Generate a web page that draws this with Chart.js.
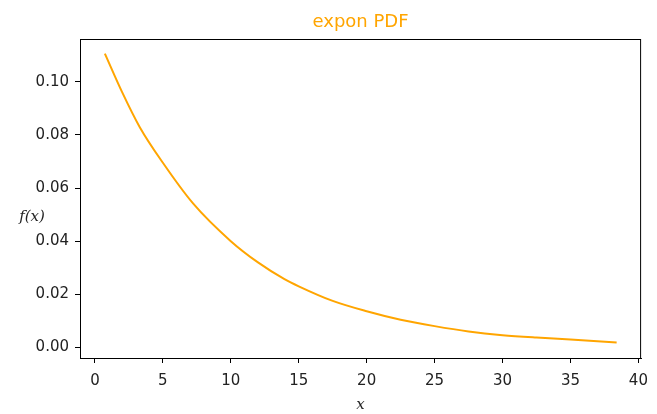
<!DOCTYPE html>
<html>
<head>
<meta charset="utf-8">
<script src="https://cdn.jsdelivr.net/npm/chart.js@4.4.0/dist/chart.umd.min.js"></script>
<style>
  html, body { margin: 0; padding: 0; background: #fff; }
  #wrap { width: 657px; height: 414px; }
</style>
</head>
<body>
<div id="wrap"><canvas id="myChart" width="657" height="414"></canvas></div>
<script>
// values
const xValues = [0.73, 2, 3.3, 5, 7.22, 10, 12, 13.95, 15, 17.5, 20, 22.5, 25, 27.5, 30, 32.5, 35, 38.4];
const pdfValues = [0.1106, 0.0961, 0.0829, 0.0695, 0.0542, 0.0400, 0.0320, 0.0257, 0.0230, 0.0175, 0.0136, 0.0104, 0.0080, 0.0060, 0.0046, 0.0037, 0.0030, 0.0018];
const xTicks = [0, 5, 10, 15, 20, 25, 30, 35, 40];
const yTicks = [0, 0.02, 0.04, 0.06, 0.08, 0.10];

const titleText = "expon PDF";
const xLabel = "x";
const yLabel = "f(x)";

const points = xValues.map((x, i) => ({ x: x, y: pdfValues[i] }));

// box around the plot + the axis labels (ylabel is horizontal like matplotlib rotation=0)
const framePlugin = {
    id: "frame",
    afterDraw(chart) {
        const ctx = chart.ctx;
        const a = chart.chartArea;
        ctx.save();
        ctx.strokeStyle = "#000";
        ctx.lineWidth = 1;
        ctx.strokeRect(a.left + 0.5, a.top + 0.5, a.right - a.left - 1, a.bottom - a.top);
        ctx.fillStyle = "#222";
        ctx.font = "italic 15px 'DejaVu Serif'";
        ctx.textAlign = "center";
        ctx.textBaseline = "middle";
        ctx.fillText(xLabel, (a.left + a.right) / 2, 405);
        ctx.fillText(yLabel, 32, 217);
        ctx.restore();
    }
};

new Chart(document.getElementById("myChart").getContext("2d"), {
    type: "line",
    data: {
        datasets: [
            {
                label: "expon",
                data: points,
                borderColor: "#FFA500",
                borderWidth: 2,
                pointRadius: 0,
                fill: false,
                cubicInterpolationMode: "monotone"
            }
        ]
    },
    options: {
        responsive: false,
        animation: false,
        layout: { padding: { left: 0, right: 15, top: 0, bottom: 0 } },
        plugins: {
            legend: { display: false },
            tooltip: { enabled: false },
            title: {
                display: true,
                text: titleText,
                color: "#FFA500",
                fullSize: false,
                font: { family: "'DejaVu Sans'", size: 18, weight: "normal" },
                padding: { top: 12, bottom: 5.4 }
            }
        },
        scales: {
            x: {
                type: "linear",
                min: -1.1,
                max: 40.2,
                afterBuildTicks: s => { s.ticks = xTicks.map(v => ({ value: v })); },
                afterFit: s => { s.height = 56; },
                grid: { drawOnChartArea: false, drawTicks: true, tickLength: 5, tickColor: "#000" },
                border: { display: true, color: "#000", width: 1 },
                ticks: {
                    color: "#222",
                    padding: 9,
                    maxRotation: 0,
                    font: { family: "'DejaVu Sans'", size: 15 }
                }
            },
            y: {
                type: "linear",
                min: -0.004,
                max: 0.1161,
                afterBuildTicks: s => { s.ticks = yTicks.map(v => ({ value: v })); },
                afterFit: s => { s.width = 80; },
                grid: { drawOnChartArea: false, drawTicks: true, tickLength: 5, tickColor: "#000" },
                border: { display: true, color: "#000", width: 1 },
                ticks: {
                    color: "#222",
                    padding: 6,
                    font: { family: "'DejaVu Sans'", size: 15 },
                    callback: v => v.toFixed(2)
                }
            }
        }
    },
    plugins: [framePlugin]
});
</script>
</body>
</html>
